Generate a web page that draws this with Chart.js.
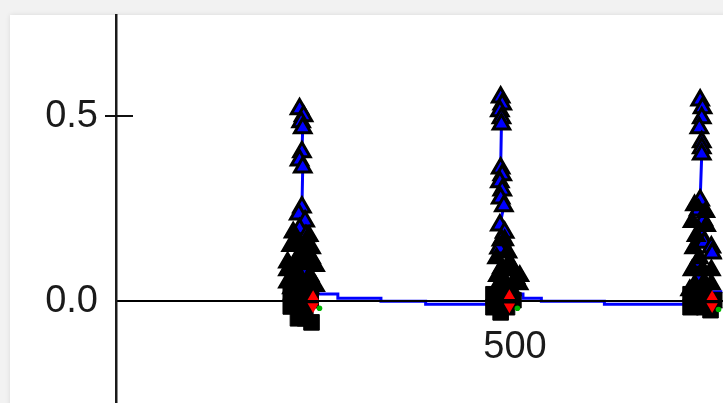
<!DOCTYPE html>
<html>
<head>
<meta charset="utf-8">
<script src="https://cdn.jsdelivr.net/npm/chart.js@4.4.1/dist/chart.umd.min.js"></script>
<style>
  html, body { margin:0; padding:0; background:#f2f2f2; overflow:hidden; width:723px; height:403px; }
  #card { position:absolute; left:10px; top:15px; width:760px; height:420px; background:#fff;
          box-shadow:0 0 5px rgba(0,0,0,0.10); }
  #c { position:absolute; left:0; top:0; }
</style>
</head>
<body>
<div id="card"></div>
<canvas id="c" width="735" height="416"></canvas>
<script>
// ---- axis ranges / ticks ----
const xTickValues = [500];
const yTickValues = [0, 0.5];

// ---- blue triangle series (one spike per cluster) ----
const spikeX1 = [230,235,232,234,233,230,234,233,229,237,230,238,227,234,242,224,235,230,243,225];
const spikeY1 = [0.519,0.500,0.484,0.468,0.403,0.381,0.362,0.254,0.235,0.216,0.195,0.176,0.154,0.135,0.116,0.095,0.078,0.057,0.043,0.030];
const spikeX2 = [482,484,481,483,483,482,484,481,484,482,486,481,487,483,480,478];
const spikeY2 = [0.551,0.532,0.514,0.495,0.478,0.359,0.341,0.322,0.300,0.278,0.257,0.205,0.186,0.165,0.143,0.038];
const spikeX3 = [732,735,734,731,734,734,734,732,730,736,731,737,746,747,729,731];
const spikeY3 = [0.543,0.522,0.495,0.468,0.430,0.414,0.397,0.273,0.246,0.219,0.186,0.159,0.146,0.130,0.105,0.065];

// ---- black triangle series ----
const blackTriX = [222,242,219,245,230,215,238,250,223,243,215,233,250,215,230,245,230,243,220,225,238,
                   487,491,477,493,483,498,478,501,488,505,481,496,506,477,491,
                   725,739,722,740,727,724,731,722,737,746,726,735,719,746];
const blackTriY = [0.186,0.176,0.149,0.143,0.127,0.105,0.100,0.095,0.078,0.068,0.051,0.046,0.041,0.084,0.105,0.116,0.068,0.035,0.035,0.165,0.154,
                   0.165,0.132,0.116,0.105,0.089,0.084,0.068,0.062,0.051,0.046,0.041,0.030,0.068,0.030,0.084,
                   0.259,0.241,0.214,0.203,0.176,0.143,0.116,0.084,0.051,0.046,0.041,0.084,0.030,0.084];

// ---- black square series ----
const squareX = [219,237,219,237,228,244,228,245,237, 473,490,473,490,482,498, 720,737,720,737,753,745];
const squareY = [0.024,0.024,-0.014,-0.014,-0.046,0.003,0.003,-0.057,-0.046,
                 0.019,0.019,-0.016,-0.016,-0.030,0.003,
                 0.019,0.019,-0.016,-0.016,0.003,-0.024];

// ---- red / green small markers ----
const redUpX = [247,493,747];
const redUpY = [0.012,0.015,0.012];
const redDownX = [247,493,747];
const redDownY = [-0.014,-0.015,-0.014];
const greenX = [255,503,755];
const greenY = [-0.019,-0.019,-0.022];

// ---- blue stepped baseline between spikes ----
const decayX1 = [233,278,332,388,443,483];
const decayY1 = [0.028,0.020,0.008,0,-0.008,-0.008];
const decayX2 = [483,510,533,612,687,734];
const decayY2 = [0.026,0.020,0.008,0,-0.008,-0.008];
const decayX3 = [734,760];
const decayY3 = [0.026,0.026];

function pts(xs, ys) { return xs.map((x, i) => ({x: x, y: ys[i]})); }
function joinGaps(groups) {
  const out = [];
  groups.forEach((g, gi) => {
    if (gi > 0) out.push({x: g[0].x, y: null});
    g.forEach(p => out.push(p));
  });
  return out;
}

const FONT = "'Liberation Sans', Arial, sans-serif";

const crossTicks = {
  id: 'crossTicks',
  afterDraw(chart) {
    const ys = chart.scales.y;
    const ctx = chart.ctx;
    ctx.save();
    ctx.strokeStyle = '#111';
    ctx.lineWidth = 2;
    ys.ticks.forEach((t, i) => {
      if (t.value === 0) return;
      const py = Math.round(ys.getPixelForTick(i));
      ctx.beginPath();
      ctx.moveTo(ys.right - 11, py);
      ctx.lineTo(ys.right + 17, py);
      ctx.stroke();
    });
    ctx.restore();
  }
};

function zeroPad(s) { s.paddingTop = 0; s.paddingBottom = 0; s.paddingLeft = 0; s.paddingRight = 0; }

new Chart(document.getElementById('c'), {
  type: 'scatter',
  data: {
    datasets: [
      { label: 'green', data: pts(greenX, greenY), pointStyle: 'circle', pointRadius: 2.8,
        pointBackgroundColor: '#00b400', pointBorderWidth: 0 },
      { label: 'redUp', data: pts(redUpX, redUpY), pointStyle: 'triangle', pointRadius: 6.5,
        pointBackgroundColor: '#ff0000', pointBorderWidth: 0 },
      { label: 'redDown', data: pts(redDownX, redDownY), pointStyle: 'triangle', pointRotation: 180, pointRadius: 6.5,
        pointBackgroundColor: '#ff0000', pointBorderWidth: 0 },
      { label: 'squares', data: pts(squareX, squareY), pointStyle: 'rect', pointRadius: 11,
        pointBackgroundColor: '#000', pointBorderColor: '#000', pointBorderWidth: 1 },
      { label: 'blackTri', data: pts(blackTriX, blackTriY), pointStyle: 'triangle', pointRadius: 9.5,
        pointBackgroundColor: '#000', pointBorderColor: '#000', pointBorderWidth: 2.5 },
      { type: 'line', label: 'blue',
        data: joinGaps([pts(spikeX1, spikeY1), pts(spikeX2, spikeY2), pts(spikeX3, spikeY3)]),
        borderColor: '#0000ff', borderWidth: 3, spanGaps: false, fill: false,
        pointStyle: 'triangle', pointRadius: 9.5, pointBackgroundColor: '#0000ff',
        pointBorderColor: '#000', pointBorderWidth: 3 },
      { type: 'line', label: 'decay',
        data: joinGaps([pts(decayX1, decayY1), pts(decayX2, decayY2), pts(decayX3, decayY3)]),
        borderColor: '#0000ff', borderWidth: 3, stepped: 'after', spanGaps: false, fill: false,
        pointRadius: 0 }
    ]
  },
  options: {
    responsive: false,
    animation: false,
    devicePixelRatio: 1,
    layout: { padding: { top: 15, left: 0, right: 0, bottom: 0 } },
    plugins: { legend: { display: false }, tooltip: { enabled: false } },
    scales: {
      x: {
        type: 'linear', min: 0, max: 760,
        position: { y: 0 },
        afterBuildTicks: s => { s.ticks = xTickValues.map(v => ({value: v})); },
        afterFit: s => { s.height = 0; zeroPad(s); },
        grid: { display: false, drawTicks: false },
        border: { display: true, color: '#000', width: 2, z: 1 },
        ticks: { color: '#1a1a1a', font: { family: FONT, size: 38 }, padding: 23,
                 maxRotation: 0, callback: v => String(v) }
      },
      y: {
        type: 'linear', min: -0.276, max: 0.773, position: 'left',
        afterBuildTicks: s => { s.ticks = yTickValues.map(v => ({value: v})); },
        afterFit: s => { s.width = 116; zeroPad(s); },
        grid: { display: false, drawTicks: false },
        border: { display: true, color: '#1a1a1a', width: 2.5, z: 1 },
        ticks: { color: '#1a1a1a', font: { family: FONT, size: 38 }, padding: 18,
                 callback: v => Number(v).toFixed(1) }
      }
    }
  },
  plugins: [crossTicks]
});
</script>
</body>
</html>
